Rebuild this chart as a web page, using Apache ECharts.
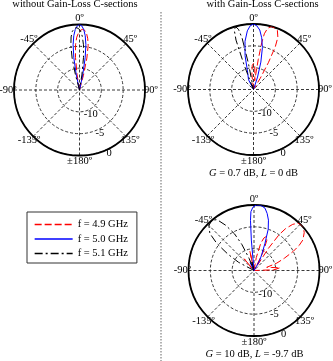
<!DOCTYPE html>
<html>
<head>
<meta charset="utf-8" />
<title>Radiation patterns</title>
<script src="https://cdn.jsdelivr.net/npm/echarts@6/dist/echarts.min.js"></script>
<style>html,body{margin:0;padding:0;background:#fff;}</style>
</head>
<body>
<div id="main" style="width:333px;height:361px;"></div>
<script type="text/javascript">
// radial scale in dB (centre = -15, rim = 0), angle ticks in degrees
var radMin = -15, radMax = 0, radStep = 5;
var angMin = -180, angMax = 180, angStep = 45;
var freqNames = ['f = 4.9 GHz', 'f = 5.0 GHz', 'f = 5.1 GHz'];
var plotTitles = ['without Gain-Loss C-sections', 'with Gain-Loss C-sections'];

// patterns as [angle deg, gain dB]
// without Gain-Loss C-sections
var noGL_49 = [[-11,-15],[-9,-11.5],[-7,-7.5],[-5,-4.6],[-3,-2.9],[-1,-1.9],[1,-1.3],[3,-1.1],[5,-1.3],[7,-1.9],[9,-3],[11,-4.6],[13,-7.5],[15,-11.5],[17,-15]];
var noGL_50 = [[-14,-15],[-12,-11.5],[-10,-7.5],[-8,-4.5],[-6,-2.5],[-4,-1.1],[-2,-0.3],[0,0],[2,-0.3],[4,-1.1],[6,-2.5],[8,-4.5],[10,-7.5],[12,-11.5],[14,-15]];
var noGL_51 = [[-17,-15],[-15,-11.5],[-13,-7.5],[-11,-4.6],[-9,-2.7],[-7,-1.5],[-5,-0.9],[-3,-0.7],[-1,-0.9],[1,-1.5],[3,-2.7],[5,-4.6],[7,-7.5],[9,-11.5],[11,-15]];

// G = 0.7 dB, L = 0 dB
var gl07_49 = [[-10,-15],[-6,-11.5],[-3,-9.5],[0,-9],[3,-9.5],[6,-12],[7.5,-13],[9,-8],[10,-4],[11,-2],[13,-0.6],[16,0],[19,-0.1],[22,-0.4],[25,-1.8],[27,-4],[29,-8],[31,-12],[33,-15]];
var gl07_50 = [[-32,-15],[-27,-12.5],[-22,-12.5],[-18,-10.5],[-14,-7],[-10,-3.8],[-6,-1.5],[-3,-0.4],[0,0],[3,-0.4],[6,-1.3],[9,-3],[12,-5.2],[15,-8.5],[18,-12],[21,-15]];
var gl07_51 = [[-24,-15],[-21,-9],[-19.5,-3],[-18,-0.8],[-16,0],[-14,-0.8],[-12.5,-3],[-11,-9],[-8,-15]];

// G = 10 dB, L = -9.7 dB
var gl10_49 = [[-48,-15],[-40,-11.5],[-34,-11.3],[-28,-15],[-18,-15],[-12,-10.5],[-8,-11],[-4,-15],[4,-15],[10,-12],[14,-8.5],[17,-7.2],[20,-6.7],[23,-7.5],[26,-10],[29,-14],[31,-15],[33,-9],[35,-5],[37,-3],[40,-1.2],[43,-0.2],[46,0],[49,0],[53,-0.6],[58,-1.8],[61,-3.2],[64,-5],[68,-7.5],[72,-9.5],[76,-12],[80,-11],[84,-9],[88,-10.5],[92,-15]];
var gl10_50 = [[-30,-15],[-25,-13],[-20,-13],[-15,-15],[-7,-15],[-5,-8],[-4,-3.5],[-3,-1.5],[-1,-0.5],[2,0],[6,0],[10,-0.5],[13,-1.6],[16,-3],[19,-5],[22,-8.3],[26,-11],[30,-12.5],[34,-15]];
var gl10_51 = [[-66,-15],[-62,-11],[-58,-8],[-54,-4.5],[-50,-1.8],[-45,-0.4],[-40,0],[-36,-0.6],[-32,-2.8],[-28,-5.5],[-25,-8.4],[-22,-12],[-18,-15],[-14,-13],[-10,-13],[-6,-15]];

var plotData = [[noGL_49, noGL_50, noGL_51], [gl07_49, gl07_50, gl07_51], [gl10_49, gl10_50, gl10_51]];

var serif = "'Liberation Serif', 'DejaVu Serif', serif";
var centers = [[79.5, 90], [253.5, 89.5], [254, 270.5]];
var R = 65.5;
var labelDist = 71.5; // angle labels straddle the rim
var colors = ['#ff0000', '#0000ff', '#000000'];
var dashes = [[7, 3], 'solid', [8, 3, 2, 3]];

// angle labels: anchored at the centre (so they get centre alignment), pushed out with padding
var angleRich = {};
for (var v = angMin; v < angMax; v += angStep) {
  var t = v * Math.PI / 180;
  var dx = labelDist * Math.sin(t), dy = -labelDist * Math.cos(t);
  angleRich['a' + (v - angMin) / angStep] = {
    fontFamily: serif, fontSize: 10.5, color: '#000',
    padding: [Math.max(0, 2 * dy), Math.max(0, -2 * dx), Math.max(0, -2 * dy), Math.max(0, 2 * dx)]
  };
}
function angleLabel(val) {
  if (val >= angMax) return '';
  var txt = val === angMin ? '\u00b1180\u00ba' : val + '\u00ba';
  return '{a' + Math.round((val - angMin) / angStep) + '|' + txt + '}';
}

var myChart = echarts.init(document.getElementById('main'), null, {renderer: 'canvas'});

var polar = [], angleAxis = [], radiusAxis = [], series = [];
for (var p = 0; p < 3; p++) {
  polar.push({center: centers[p], radius: R});
  angleAxis.push({
    polarIndex: p, type: 'value', min: angMin, max: angMax, interval: angStep,
    startAngle: 270, clockwise: true,
    axisLine: {lineStyle: {color: '#000', width: 1.8}},
    axisTick: {show: false},
    axisLabel: {margin: -R, color: '#000', fontFamily: serif, fontSize: 10.5, formatter: angleLabel, rich: angleRich},
    splitLine: {lineStyle: {color: '#222', type: [3, 2], width: 0.9}}
  });
  radiusAxis.push({
    polarIndex: p, type: 'value', min: radMin, max: radMax, interval: radStep,
    axisLine: {show: false}, axisTick: {show: false}, axisLabel: {show: false},
    splitLine: {lineStyle: {color: '#222', type: [3, 2], width: 0.9}}
  });
  for (var f = 0; f < 3; f++) {
    series.push({
      type: 'line', name: freqNames[f], coordinateSystem: 'polar', polarIndex: p,
      data: plotData[p][f].map(function (d) { return [d[1], d[0]]; }),
      symbol: 'none', showSymbol: false, animation: false, z: 3,
      itemStyle: {color: colors[f]},
      lineStyle: {color: colors[f], width: 1, type: dashes[f]}
    });
  }
}
// dB labels sit on their own hidden polar, rotated to the lower right
for (var q = 0; q < 3; q++) {
  polar.push({center: centers[q], radius: [4.5, R + 4.5]});
  angleAxis.push({polarIndex: 3 + q, type: 'value', min: 0, max: 360, startAngle: -65, show: false});
  radiusAxis.push({
    polarIndex: 3 + q, type: 'value', min: radMin, max: radMax, interval: radStep,
    axisLine: {show: false}, axisTick: {show: false}, splitLine: {show: false},
    axisLabel: {
      margin: 0, align: 'center', verticalAlign: 'middle',
      color: '#000', fontFamily: serif, fontSize: 10.5,
      formatter: function (v) { return v === radMin ? '' : String(v); }
    }
  });
}

var legendData = freqNames.map(function (n, i) {
  return {name: n, itemStyle: {opacity: 0}, lineStyle: {color: colors[i], type: dashes[i], width: 1.3}};
});

var capRich = {i: {fontStyle: 'italic', fontFamily: serif, fontSize: 10.5, fill: '#000'}};
var option = {
  animation: false,
  backgroundColor: '#fff',
  polar: polar,
  angleAxis: angleAxis,
  radiusAxis: radiusAxis,
  legend: {
    orient: 'vertical', left: 27, top: 212,
    padding: [7, 9, 4, 7], itemWidth: 38, itemHeight: 13, itemGap: 3.5,
    borderColor: '#333', borderWidth: 1,
    data: legendData,
    textStyle: {fontFamily: serif, fontSize: 10.5, color: '#000'}
  },
  graphic: [
    {type: 'text', x: 75, y: 4.5, style: {text: plotTitles[0], font: '10.5px ' + serif, fill: '#000', textAlign: 'center', textVerticalAlign: 'middle'}},
    {type: 'text', x: 262.5, y: 4.5, style: {text: plotTitles[1], font: '10.5px ' + serif, fill: '#000', textAlign: 'center', textVerticalAlign: 'middle'}},
    {type: 'text', x: 253.5, y: 173.5, style: {text: '{i|G} = 0.7 dB, {i|L} = 0 dB', font: '10.5px ' + serif, fill: '#000', textAlign: 'center', textVerticalAlign: 'middle', rich: capRich}},
    {type: 'text', x: 254.5, y: 354, style: {text: '{i|G} = 10 dB, {i|L} = -9.7 dB', font: '10.5px ' + serif, fill: '#000', textAlign: 'center', textVerticalAlign: 'middle', rich: capRich}},
    {type: 'line', shape: {x1: 161, y1: 12, x2: 161, y2: 361}, style: {stroke: '#999', lineWidth: 1.5, lineDash: [1.5, 1.5]}}
  ],
  series: series
};
myChart.setOption(option);
</script>
</body>
</html>
